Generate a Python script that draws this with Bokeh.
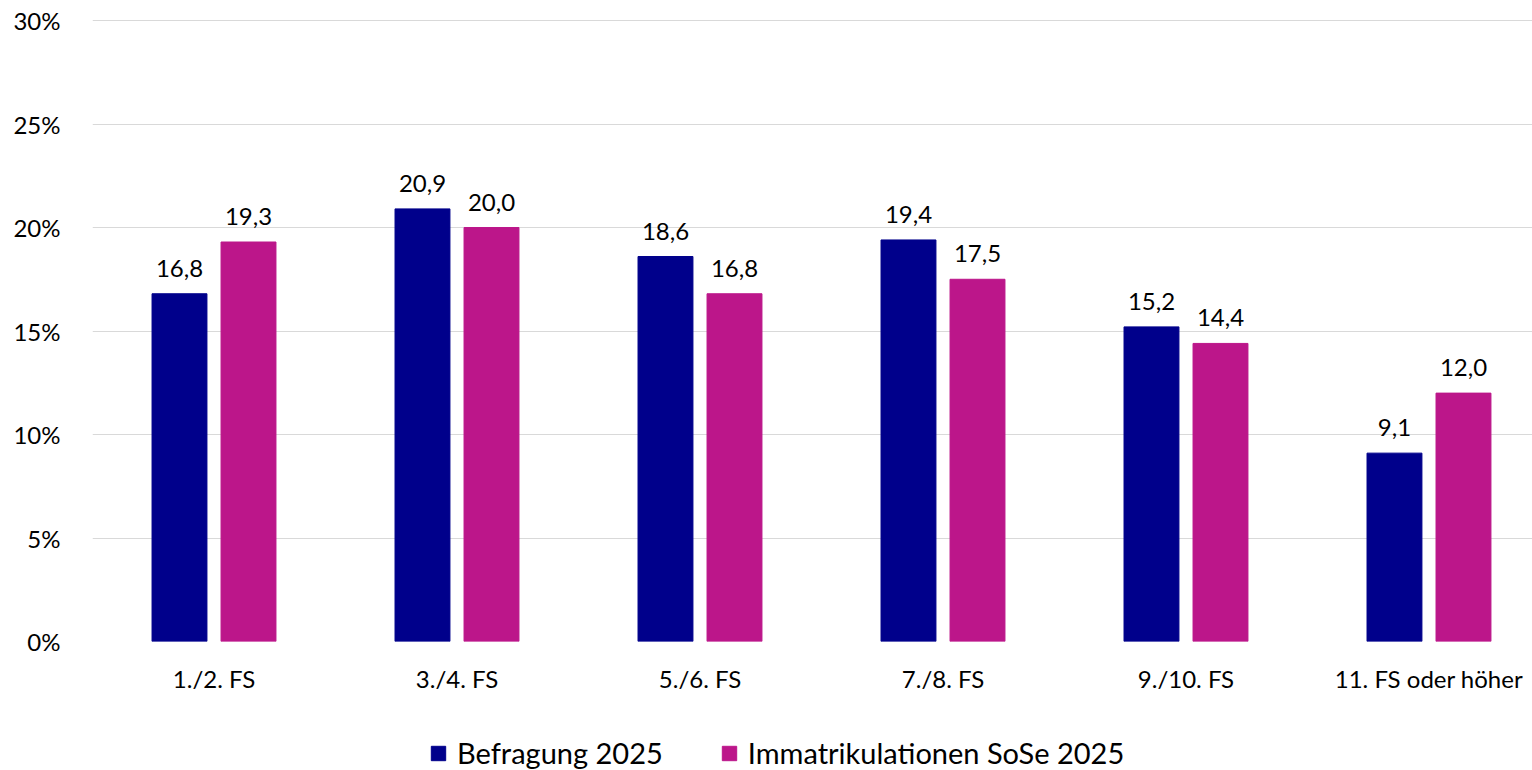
from bokeh.plotting import figure
from bokeh.layouts import column
from bokeh.models import ColumnDataSource, FixedTicker, Legend, LegendItem, NumeralTickFormatter
from bokeh.core.properties import value
from bokeh.embed import file_html
from bokeh.resources import INLINE

categories = ["1./2. FS", "3./4. FS", "5./6. FS", "7./8. FS", "9./10. FS", "11. FS oder höher"]
befragung = [16.8, 20.9, 18.6, 19.4, 15.2, 9.1]
immatrikulation = [19.3, 20.0, 16.8, 17.5, 14.4, 12.0]
series_names = ["Befragung 2025", "Immatrikulationen SoSe 2025"]
y_ticks = [0, 5, 10, 15, 20, 25, 30]

FONT = "Lato"
NAVY = "#00008B"
MAGENTA = "#BC168A"

idx = list(range(len(categories)))
off = 0.142
bw = 0.226

def fmt(v):
    return f"{v:.1f}".replace(".", ",")

src1 = ColumnDataSource(dict(x=[i - off for i in idx], y=befragung, lab=[fmt(v) for v in befragung]))
src2 = ColumnDataSource(dict(x=[i + off for i in idx], y=immatrikulation, lab=[fmt(v) for v in immatrikulation]))

p = figure(width=1532, height=700, output_backend="svg", toolbar_location=None,
           x_range=(-0.5, 5.426), y_range=(0, 30.05),
           min_border_left=92, min_border_top=19, min_border_right=0, min_border_bottom=59)

p.vbar(x="x", top="y", width=bw, source=src1, color=NAVY)
p.vbar(x="x", top="y", width=bw, source=src2, color=MAGENTA)

for s in (src1, src2):
    p.text(x="x", y="y", text="lab", source=s, text_align="center", text_baseline="bottom",
           y_offset=-17, text_font=value(FONT), text_font_size="24px", text_color="#000000")

p.xaxis.ticker = FixedTicker(ticks=idx)
p.xaxis.major_label_overrides = {i: c for i, c in enumerate(categories)}
p.yaxis.ticker = FixedTicker(ticks=y_ticks)
p.yaxis.formatter = NumeralTickFormatter(format="0")
p.yaxis.major_label_overrides = {t: f"{t}%" for t in y_ticks}

for ax in (p.xaxis, p.yaxis):
    ax.axis_line_color = None
    ax.major_tick_line_color = None
    ax.minor_tick_line_color = None
    ax.major_label_text_font = FONT
    ax.major_label_text_font_size = "24px"
    ax.major_label_text_color = "#000000"
p.xaxis.major_label_standoff = 16
p.yaxis.major_label_standoff = 26

p.xgrid.grid_line_color = None
p.ygrid.grid_line_color = "#D9D9D9"
p.ygrid.grid_line_width = 1
p.outline_line_color = None

# legend strip below the chart
lg = figure(width=1532, height=70, output_backend="svg", toolbar_location=None,
            x_range=(0, 1), y_range=(0, 1),
            min_border_left=0, min_border_top=0, min_border_right=0, min_border_bottom=0)
lg.axis.visible = False
lg.grid.grid_line_color = None
lg.outline_line_color = None
d1 = lg.vbar(x=[-5], top=[-5], width=0.1, color=NAVY)
d2 = lg.vbar(x=[-5], top=[-5], width=0.1, color=MAGENTA)
legend = Legend(items=[LegendItem(label=series_names[0], renderers=[d1]),
                       LegendItem(label=series_names[1], renderers=[d2])],
                orientation="horizontal", location=(337, 0),
                label_text_font=FONT, label_text_font_size="29px", label_text_color="#000000",
                glyph_width=18, glyph_height=18, spacing=57, label_standoff=10,
                border_line_color=None, background_fill_alpha=0, margin=0, padding=0)
lg.add_layout(legend)

layout = column(p, lg, spacing=0)
open("out.html", "w").write(file_html(layout, INLINE))
